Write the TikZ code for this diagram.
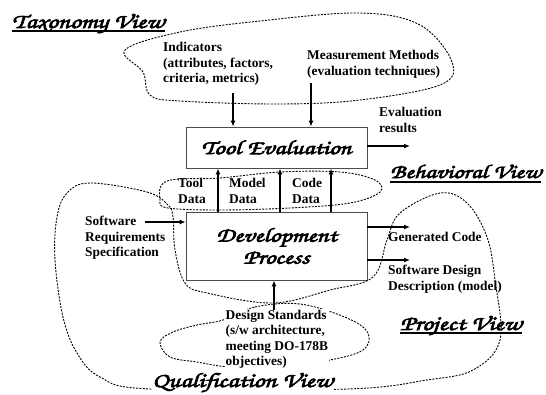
\documentclass[tikz,border=0pt]{standalone}
\usepackage{fontspec}
\setmainfont{Liberation Serif}
\newfontfamily\chancery[FakeBold=3.5, FakeStretch=1.3]{texgyrechorus-mediumitalic.otf}
\usetikzlibrary{positioning, arrows.meta}

\begin{document}
\begin{tikzpicture}[x=1pt, y=-1pt,
        procbox/.style={draw=black!70, line width=0.8pt, inner sep=0pt, minimum width=181pt,
          font=\chancery\fontsize{20}{22}\selectfont, align=center},
        lbl/.style={font=\bfseries\fontsize{13.4}{15.5}\selectfont, align=left, inner sep=0pt, anchor=north west},
        viewlbl/.style={font=\chancery\fontsize{20.5}{21}\selectfont, inner sep=0pt, anchor=base west},
        uline/.style={line width=2.4pt},
        cloud/.style={dash pattern=on 2pt off 1.3pt, line width=0.9pt},
        flow/.style={-{Latex[length=6pt,width=5pt]}, line width=1.2pt}]
        \useasboundingbox (0,0) rectangle (546,394);

        % the two process boxes
        \node[procbox, minimum height=41pt] (tool) at (276.5,147.5) {Tool Evaluation};
        \node[procbox, minimum height=68pt] (dev) at (276.5,246) {Development\\Process};

        % dashed view clouds
        \draw[cloud] plot[smooth cycle, tension=0.6] coordinates {(125,50) (180,32) (260,21) (360,13)
          (420,25) (452,62) (440,85) (360,100) (280,104) (180,101) (150,95) (143,72)};
        \draw[cloud] plot[smooth cycle, tension=0.6] coordinates {(167,181) (220,178) (280,172) (340,172)
          (375,180) (380,192) (350,203) (290,208) (220,210) (168,208) (160,200)};
        \draw[cloud] plot[smooth cycle, tension=0.6] coordinates {(90,183) (147,192) (168,205) (173,217)
          (175,250) (185,283) (207,293) (273,303) (330,290) (373,277) (387,240) (400,213) (440,193)
          (467,203) (487,237) (495,280) (500,340) (473,370) (427,380) (347,389) (150,389) (100,377)
          (77,353) (63,317) (55,260) (57,217) (67,193)};
        \draw[cloud] plot[smooth cycle, tension=0.6] coordinates {(223,320) (255,307) (300,304) (347,318)
          (368,333) (363,350) (330,360) (280,367) (230,367) (197,362) (170,357) (160,342) (173,332)
          (197,325)};

        % view titles
        \node[viewlbl] (taxv) at (12,28) {Taxonomy View};
        \draw[uline] (taxv.base west) ++(0,3) coordinate (taxa) -- (taxa -| taxv.east);
        \node[viewlbl, font=\chancery\fontsize{19.5}{21}\selectfont] (behv) at (390,178) {Behavioral View};
        \draw[uline] (behv.base west) ++(0,4) coordinate (beha) -- (beha -| behv.east);
        \node[viewlbl] (projv) at (400,330) {Project View};
        \draw[uline] (projv.base west) ++(0,3) coordinate (proja) -- (proja -| projv.east);
        \node[viewlbl, fill=white] (qualv) at (152,387) {Qualification View};

        % labels
        \node[lbl] (ind) at (163,42) {Indicators\\(attributes, factors,\\criteria, metrics)};
        \node[lbl] (meas) at (307,50) {Measurement Methods\\(evaluation techniques)};
        \node[lbl] (evres) at (379,107) {Evaluation\\results};
        \node[lbl] (tdata) at (178,178) {Tool\\Data};
        \node[lbl] (mdata) at (229,178) {Model\\Data};
        \node[lbl] (cdata) at (292,178) {Code\\Data};
        \node[lbl] (srs) at (85,216) {Software\\Requirements\\Specification};
        \node[lbl] (gcode) at (388,232) {Generated Code};
        \node[lbl] (sdd) at (388,265) {Software Design\\Description (model)};
        \node[lbl, fill=white, inner sep=0.5pt] (dstd) at (225,309) {Design Standards\\(s/w architecture,\\meeting DO-178B\\objectives)};

        % arrow ends
        \coordinate (indEnd) at (233,93);
        \coordinate (measEnd) at (311,83);
        \coordinate (evresEnd) at (410,146);
        \coordinate (srsEnd) at (145,222);
        \coordinate (gcodeEnd) at (410,227);
        \coordinate (sddEnd) at (410,260);
        \coordinate (dstdEnd) at (274,310);
        \coordinate (d1) at (218,212);
        \coordinate (d2) at (280,212);
        \coordinate (d3) at (331,212);

        % flows
        \draw[flow] (indEnd) -- (indEnd |- tool.north);
        \draw[flow] (measEnd) -- (measEnd |- tool.north);
        \draw[flow] (evresEnd -| tool.east) -- (evresEnd);
        \draw[flow] (d1) -- (d1 |- tool.south);
        \draw[flow] (d2) -- (d2 |- tool.south);
        \draw[flow] (d3) -- (d3 |- tool.south);
        \draw[flow] (srsEnd) -- (srsEnd -| dev.west);
        \draw[flow] (gcodeEnd -| dev.east) -- (gcodeEnd);
        \draw[flow] (sddEnd -| dev.east) -- (sddEnd);
        \draw[flow] (dstdEnd) -- (dstdEnd |- dev.south);
      \end{tikzpicture}
\end{document}
